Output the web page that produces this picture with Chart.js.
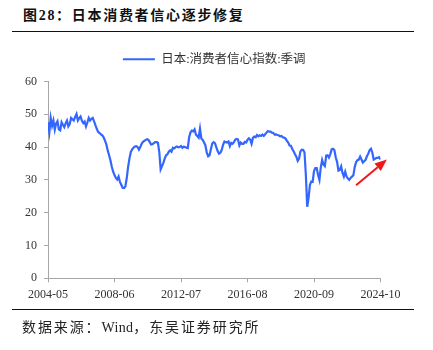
<!DOCTYPE html>
<html>
<head>
<meta charset="utf-8">
<script src="https://cdn.jsdelivr.net/npm/chart.js@4.4.1/dist/chart.umd.min.js"></script>
<style>
  html, body { margin: 0; padding: 0; background: #fff; }
  #wrap { position: relative; width: 433px; height: 350px; overflow: hidden; }
  #title { position: absolute; left: 23px; top: 4px; font: bold 14px 'Liberation Serif', 'Noto Sans CJK SC'; letter-spacing: 1.7px; color: #111; white-space: nowrap; }
  .rule { position: absolute; left: 12px; width: 402px; height: 0; border-top: 1.5px solid #111; }
  #source { position: absolute; left: 22px; top: 316px; font: 14px 'Liberation Serif', 'Noto Sans CJK SC'; letter-spacing: 1.9px; color: #222; white-space: nowrap; }
  #source span { letter-spacing: 0.3px; }
  #chartBox { position: absolute; left: 0; top: 0; }
</style>
</head>
<body>
<div id="wrap">
  <div id="title">图28：日本消费者信心逐步修复</div>
  <div class="rule" style="top:31px"></div>
  <div id="chartBox"><canvas id="cciChart" width="433" height="350"></canvas></div>
  <div class="rule" style="top:309px"></div>
  <div id="source">数据来源：<span>Wind</span>，东吴证券研究所</div>
</div>
<script>
// 月份 2004-05 ~ 2024-10
const months = [];
for (let y = 2004, m = 5; !(y === 2024 && m === 11); m++) {
    if (m > 12) { m = 1; y++; }
    months.push(y + '-' + String(m).padStart(2, '0'));
}

// x軸に出す月
const tickLabels = ['2004-05', '2008-06', '2012-07', '2016-08', '2020-09', '2024-10'];

// 日本:消费者信心指数:季调（月次）
const cci = [
    47.6, 44.6, 48.9, 46.5, 48.1, 45.3, 47.2, 47.9,                   // 2004
    45.4, 45.1, 47.6, 46.8, 46.1, 47.2, 48.1, 46.3, 47.0, 48.9, 48.5, 48.1, // 2005
    49.2, 50.1, 48.1, 48.8, 49.3, 48.0, 47.3, 47.8, 46.3, 47.5, 48.9, 48.1, // 2006
    48.6, 48.9, 47.8, 46.6, 45.5, 44.6, 44.3, 43.9, 43.6, 43.0, 42.0, 40.8, // 2007
    39.0, 37.5, 36.0, 34.0, 32.5, 31.5, 30.6, 30.1, 31.0, 29.4, 28.5, 27.6, // 2008
    27.5, 28.0, 30.5, 33.9, 36.5, 38.5, 39.3, 39.8, 40.2, 40.3, 40.0, 39.2, // 2009
    40.0, 41.0, 41.6, 41.9, 42.2, 42.4, 42.2, 41.5, 40.8, 40.9, 41.2, 41.5, // 2010
    41.5, 41.3, 38.5, 33.2, 34.2, 35.2, 36.5, 37.5, 37.8, 38.6, 39.0, 38.6, // 2011
    39.8, 39.6, 40.0, 40.2, 39.9, 40.0, 40.3, 39.8, 40.1, 40.0, 39.8, 39.7, // 2012
    43.0, 44.5, 45.0, 44.8, 45.4, 43.8, 43.4, 42.9, 45.6, 42.6, 42.2, 41.4, // 2013
    40.5, 38.3, 37.2, 37.5, 39.3, 41.1, 41.5, 41.2, 40.0, 38.8, 38.0, 38.3, // 2014
    39.1, 40.7, 41.7, 41.5, 41.4, 41.7, 40.3, 41.3, 41.0, 41.5, 42.3, 42.5, // 2015
    42.3, 40.5, 41.4, 41.0, 41.0, 41.6, 41.4, 42.2, 42.7, 42.3, 41.0, 42.8, // 2016
    43.2, 43.0, 43.7, 43.3, 43.6, 43.4, 43.8, 43.4, 43.9, 44.4, 44.9, 44.7, // 2017
    44.7, 44.4, 44.3, 43.8, 43.9, 43.7, 43.6, 43.3, 43.4, 43.0, 42.9, 42.6, // 2018
    41.9, 41.4, 40.5, 40.4, 39.4, 38.7, 37.8, 37.1, 35.8, 36.5, 38.7, 39.2, // 2019
    39.1, 38.4, 31.5, 21.8, 24.5, 28.5, 29.5, 29.4, 32.7, 33.6, 33.6, 31.5, // 2020
    30.0, 33.8, 36.1, 34.7, 34.2, 37.4, 37.5, 36.8, 37.8, 39.3, 39.5, 39.1, // 2021
    36.9, 35.5, 32.8, 33.0, 34.1, 32.1, 31.0, 32.5, 31.0, 30.4, 30.0, 30.6, // 2022
    31.0, 31.4, 33.9, 35.4, 36.0, 36.2, 37.1, 36.2, 35.3, 35.7, 36.1, 37.2, // 2023
    38.0, 39.1, 39.5, 38.3, 36.2, 36.4, 36.7, 36.7, 36.9, 36.2              // 2024
];

// 上昇トレンドの矢印（x=月のindex, y=指数）
const arrowFrom = [227, 28.4];
const arrowTo = [249.7, 36.2];

const axisColor = '#a6a6a6';
const tickFont = { family: "'Liberation Serif', 'Noto Sans CJK SC'", size: 12 };

// 凡例の下に余白を足す
const legendGap = {
    id: 'legendGap',
    beforeLayout(chart) {
        const legend = chart.legend;
        if (!legend || legend._gapPatched) return;
        const fit = legend.fit;
        legend.fit = function () { fit.call(this); this.height += 6; };
        legend._gapPatched = true;
    }
};

const trendArrow = {
    id: 'trendArrow',
    afterDatasetsDraw(chart) {
        const { ctx, scales: { x, y } } = chart;
        const x0 = x.getPixelForValue(arrowFrom[0]), y0 = y.getPixelForValue(arrowFrom[1]);
        const x1 = x.getPixelForValue(arrowTo[0]), y1 = y.getPixelForValue(arrowTo[1]);
        const a = Math.atan2(y1 - y0, x1 - x0);
        const head = 12, half = 5;
        const bx = x1 - head * Math.cos(a), by = y1 - head * Math.sin(a);
        ctx.save();
        ctx.strokeStyle = ctx.fillStyle = '#f01818';
        ctx.lineWidth = 2;
        ctx.beginPath();
        ctx.moveTo(x0, y0);
        ctx.lineTo(bx, by);
        ctx.stroke();
        ctx.beginPath();
        ctx.moveTo(x1, y1);
        ctx.lineTo(bx + half * Math.sin(a), by - half * Math.cos(a));
        ctx.lineTo(bx - half * Math.sin(a), by + half * Math.cos(a));
        ctx.closePath();
        ctx.fill();
        ctx.restore();
    }
};

new Chart(document.getElementById('cciChart').getContext('2d'), {
    type: 'line',
    data: {
        datasets: [{
            label: '日本:消费者信心指数:季调',
            data: cci.map((v, i) => ({ x: i, y: v })),
            borderColor: '#3366ff',
            backgroundColor: '#3366ff',
            borderWidth: 2.2,
            pointRadius: 0,
            pointStyle: 'line',
            tension: 0,
            fill: false
        }]
    },
    options: {
        responsive: false,
        animation: false,
        layout: { padding: { top: 47, right: 52.5, bottom: 41.7, left: 0 } },
        plugins: {
            legend: {
                fullSize: false,
                labels: {
                    usePointStyle: true,
                    pointStyle: 'line',
                    pointStyleWidth: 32,
                    padding: 6,
                    color: '#333',
                    font: { family: tickFont.family, size: 12.5 }
                }
            },
            tooltip: { enabled: false }
        },
        scales: {
            x: {
                type: 'linear',
                min: 0,
                max: months.length - 1,
                afterBuildTicks: (s) => { s.ticks = tickLabels.map(l => ({ value: months.indexOf(l) })); },
                afterFit: (s) => { s.height = 30; },
                grid: { drawOnChartArea: false, tickLength: 4, color: axisColor },
                border: { color: axisColor, width: 1 },
                ticks: {
                    callback: (v) => months[v],
                    autoSkip: false,
                    maxRotation: 0,
                    padding: 5,
                    color: '#333',
                    font: tickFont
                }
            },
            y: {
                min: 0,
                max: 60,
                afterFit: (s) => { s.width = 48; },
                grid: { drawOnChartArea: false, tickLength: 4, color: axisColor },
                border: { color: axisColor, width: 1 },
                ticks: { stepSize: 10, padding: 7, color: '#333', font: tickFont }
            }
        }
    },
    plugins: [legendGap, trendArrow]
});
</script>
</body>
</html>
